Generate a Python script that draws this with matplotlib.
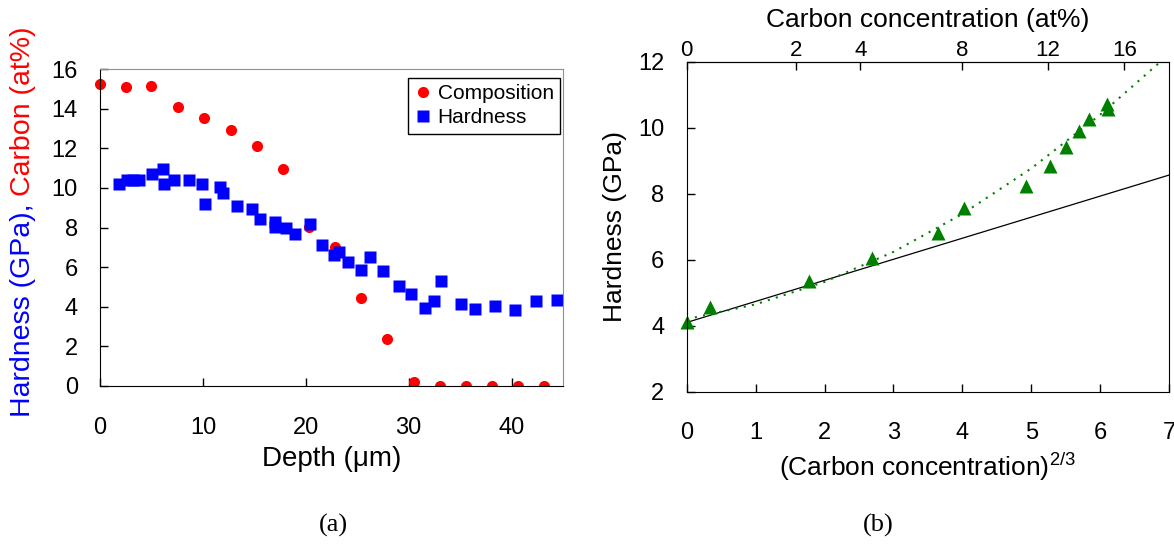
import numpy as np
import matplotlib
matplotlib.use("Agg")
import matplotlib.pyplot as plt
from matplotlib.patches import Rectangle

plt.rcParams['font.family'] = ['Liberation Sans', 'DejaVu Sans']
plt.rcParams['mathtext.fontset'] = 'custom'
plt.rcParams['mathtext.rm'] = 'Liberation Sans'

# (a) depth profile
comp_depth = [0, 2.5, 5.0, 7.55, 10.15, 12.7, 15.25, 17.75, 20.3, 22.8,
              25.35, 27.9, 30.5, 33.0, 35.55, 38.1, 40.65, 43.2]
comp_carbon = [15.25, 15.07, 15.12, 14.08, 13.52, 12.93, 12.09, 10.94, 8.05, 7.04,
               4.43, 2.36, 0.22, 0.02, 0.0, 0.0, 0.0, 0.0]

hard_depth = [1.88, 2.6, 3.18, 3.83, 5.03, 6.1, 6.23, 7.23, 8.63, 9.9,
              10.22, 11.68, 11.94, 13.36, 14.76, 15.57, 17.03, 17.03, 18.1, 18.98,
              20.37, 21.6, 22.77, 23.2, 24.1, 25.37, 26.2, 27.47, 29.03, 30.24,
              31.57, 32.5, 33.16, 35.04, 36.43, 38.38, 40.3, 42.34, 44.45]
hard_gpa = [10.19, 10.4, 10.4, 10.4, 10.7, 10.96, 10.19, 10.4, 10.4, 10.19,
            9.19, 10.03, 9.76, 9.09, 8.92, 8.43, 8.27, 8.05, 8.0, 7.66,
            8.17, 7.12, 6.62, 6.78, 6.28, 5.86, 6.53, 5.81, 5.07, 4.65,
            3.92, 4.31, 5.32, 4.14, 3.87, 4.04, 3.84, 4.29, 4.34]

# (b) hardness vs (carbon)^(2/3)
conc23 = [0.0, 0.338, 1.78, 2.69, 3.65, 4.03, 4.93, 5.27, 5.5, 5.69, 5.84, 6.1, 6.12]
hardness_b = [4.12, 4.58, 5.37, 6.05, 6.82, 7.56, 8.24, 8.85, 9.41, 9.91, 10.28, 10.73, 10.56]

lin_x = [0, 7]
lin_y = [4.1, 8.57]
fit_x = [0, 1, 2, 3, 4, 5, 6, 6.85]
fit_y = [4.2, 4.65, 5.33, 6.24, 7.39, 8.77, 10.4, 11.96]

top_ticks = [0, 2, 4, 8, 12, 16]

fig = plt.figure(figsize=(11.74, 5.44), dpi=100)

# ---- panel (a)
ax1 = fig.add_axes([100/1174, 1-386/544, 463/1174, 317/544])
l1, = ax1.plot(comp_depth, comp_carbon, 'o', color='#ff0000', ms=8, mec='none', label='Composition')
l2, = ax1.plot(hard_depth, hard_gpa, 's', color='#0000ff', ms=8, mec='none', label='Hardness')
clip = Rectangle((-0.05, 0), 1.1, 1.1, transform=ax1.transAxes)
l1.set_clip_path(clip)
ax1.set_xlim(0, 45)
ax1.set_ylim(0, 16)
ax1.set_xticks([0, 10, 20, 30, 40])
ax1.set_yticks(range(0, 17, 2))
ax1.tick_params(direction='in', length=6, width=1, labelsize=17, top=False, right=False)
ax1.tick_params(axis='x', pad=22)
ax1.tick_params(axis='y', pad=16)
for s in ['top', 'right']:
    ax1.spines[s].set_color('#909090')
ax1.set_xlabel('Depth (μm)', fontsize=20, labelpad=5)
leg = ax1.legend(loc='upper right', bbox_to_anchor=(0.9935, 0.972), borderaxespad=0,
                 fontsize=15, fancybox=False, edgecolor='black', framealpha=1,
                 handlelength=0.8, handletextpad=0.3, borderpad=0.3, labelspacing=0.25)
leg.get_frame().set_linewidth(1.0)

t1 = fig.text(0.0196, 1-417/544, 'Hardness (GPa), ', rotation=90, color='#0000ff',
              fontsize=20.5, ha='center', va='bottom')
ax1.annotate('Carbon (at%)', xy=(0.5, 1), xycoords=t1, rotation=90, color='#ff0000',
             fontsize=20.5, ha='center', va='bottom', annotation_clip=False)

fig.text(333/1174, 1-525/544, '(a)', family='Liberation Serif', fontsize=19, ha='center', va='center')

# ---- panel (b)
ax2 = fig.add_axes([686.7/1174, 1-391.7/544, 482.3/1174, 329.7/544])
ax2.plot(lin_x, lin_y, '-', color='black', lw=0.9)
ax2.plot(fit_x, fit_y, color='#008000', lw=1.5, ls=(0, (1, 3)))
ax2.plot(conc23, hardness_b, '^', color='#008000', ms=10, mec='none', clip_on=False)
ax2.set_xlim(0, 7)
ax2.set_ylim(2, 12)
ax2.set_xticks(range(0, 8))
ax2.set_yticks(range(2, 13, 2))
ax2.tick_params(direction='in', length=6, width=1, labelsize=17, top=False, right=False)
ax2.tick_params(axis='x', pad=22)
ax2.tick_params(axis='y', pad=16)
ax2.set_xlabel('(Carbon concentration)$^{\\mathrm{2/3}}$', fontsize=19, labelpad=4)
ax2.set_ylabel('Hardness (GPa)', fontsize=19, labelpad=8)

sec = ax2.secondary_xaxis('top', functions=(lambda x: np.sign(x)*np.abs(x)**1.5,
                                            lambda c: np.sign(c)*np.abs(c)**(2/3)))
sec.set_xticks(top_ticks)
sec.tick_params(direction='in', length=6, width=1, labelsize=16, pad=1)
fig.text(928/1174, 1-20/544, 'Carbon concentration (at%)', fontsize=19, ha='center', va='center')

fig.text(878/1174, 1-525/544, '(b)', family='Liberation Serif', fontsize=19, ha='center', va='center')

fig.savefig('out.png', dpi=100)
